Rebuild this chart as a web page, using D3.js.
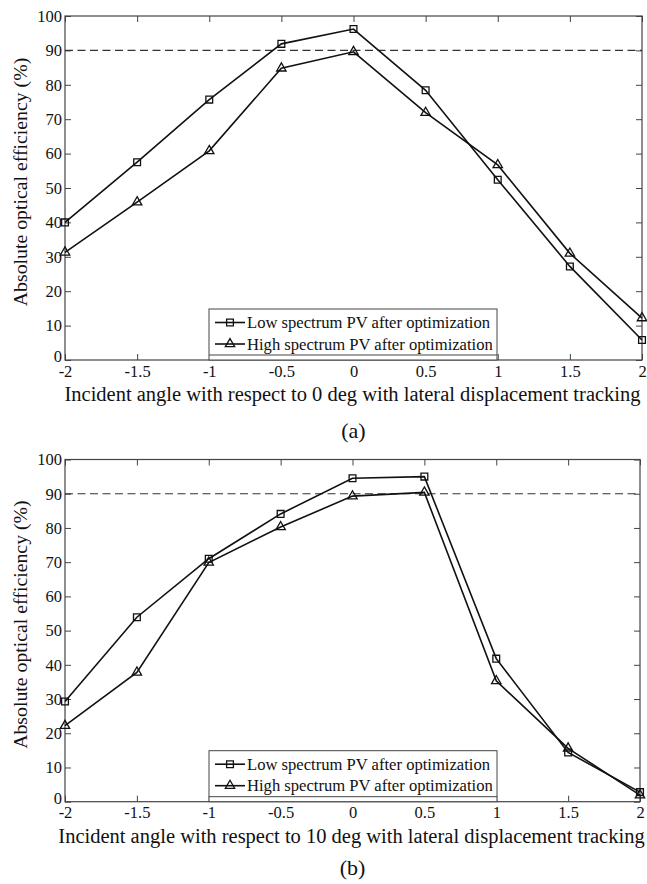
<!DOCTYPE html>
<html><head><meta charset="utf-8">
<script src="https://cdn.jsdelivr.net/npm/d3@7"></script>
<style>
html,body{margin:0;padding:0;background:#fff;}
svg text{font-family:"Liberation Serif","Times New Roman",serif;fill:#111;}
</style></head>
<body>
<svg id="chart" width="647" height="884"></svg>
<script>
// ---- data ----
const angles = [-2, -1.5, -1, -0.5, 0, 0.5, 1, 1.5, 2];
const lowA  = [40.0, 57.5, 75.7, 91.9, 96.2, 78.4, 52.4, 27.2, 5.8];
const highA = [31.3, 45.9, 60.8, 84.8, 89.6, 71.9, 56.7, 31.0, 12.2];
const lowB  = [29.3, 53.9, 71.0, 84.1, 94.5, 95.0, 41.8, 14.4, 2.8];
const highB = [22.2, 37.8, 69.9, 80.3, 89.3, 90.4, 35.3, 15.6, 1.9];
const xTicks = [-2, -1.5, -1, -0.5, 0, 0.5, 1, 1.5, 2];
const yTicks = [0, 10, 20, 30, 40, 50, 60, 70, 80, 90, 100];
const threshold = 90;
const seriesNames = ["Low spectrum PV after optimization", "High spectrum PV after optimization"];
const xLabels = ["Incident angle with respect to 0 deg with lateral displacement tracking",
                 "Incident angle with respect to 10 deg with lateral displacement tracking"];
const yLabel = "Absolute optical efficiency (%)";
const captions = ["(a)", "(b)"];

const svg = d3.select("#chart");
const panels = [
  {low: lowA, high: highA, left: 65, right: 642, top: 16, bottom: 360, xl: xLabels[0], cap: captions[0], capDy: 78},
  {low: lowB, high: highB, left: 65, right: 640, top: 459.5, bottom: 801.7, xl: xLabels[1], cap: captions[1], capDy: 73}
];

const sq = d3.symbol().type(d3.symbolSquare).size(46);
const tri = d3.symbol().type(d3.symbolTriangle).size(38);

panels.forEach(p => {
  const x = d3.scaleLinear().domain([-2, 2]).range([p.left, p.right]);
  const y = d3.scaleLinear().domain([0, 100]).range([p.bottom, p.top]);
  const g = svg.append("g");

  // frame
  g.append("rect").attr("x", p.left).attr("y", p.top)
    .attr("width", p.right - p.left).attr("height", p.bottom - p.top)
    .attr("fill", "none").attr("stroke", "#444").attr("stroke-width", 1.2);

  // axes
  const ax = g.append("g").attr("transform", `translate(0,${p.bottom})`)
    .call(d3.axisBottom(x).tickValues(xTicks).tickSize(-6).tickSizeOuter(0).tickPadding(5)
      .tickFormat(d => String(d)));
  const ay = g.append("g").attr("transform", `translate(${p.left},0)`)
    .call(d3.axisLeft(y).tickValues(yTicks).tickSize(-6).tickSizeOuter(0).tickPadding(3));
  const at = g.append("g").attr("transform", `translate(0,${p.top})`)
    .call(d3.axisTop(x).tickValues(xTicks).tickSize(-6).tickSizeOuter(0).tickFormat(""));
  const ar = g.append("g").attr("transform", `translate(${p.right},0)`)
    .call(d3.axisRight(y).tickValues(yTicks).tickSize(-6).tickSizeOuter(0).tickFormat(""));
  [ax, ay, at, ar].forEach(a => {
    a.select(".domain").remove();
    a.selectAll("line").attr("stroke", "#444").attr("stroke-width", 1);
    a.selectAll("text").attr("font-size", "16.5px").attr("fill", "#111")
      .style("font-family", '"Liberation Serif","Times New Roman",serif');
  });
  // lift the "0" y label slightly so it sits in the corner like the reference
  ay.selectAll(".tick").filter(d => d === 0).select("text").attr("dy", "0.1em");

  // dashed threshold
  g.append("line").attr("x1", p.left).attr("x2", p.right)
    .attr("y1", y(threshold)).attr("y2", y(threshold))
    .attr("stroke", "#333").attr("stroke-width", 1.1).attr("stroke-dasharray", "8,4.5");

  const line = d3.line().x((d, i) => x(angles[i])).y(d => y(d));
  [[p.low, sq], [p.high, tri]].forEach(([vals, sym]) => {
    g.append("path").datum(vals).attr("d", line)
      .attr("fill", "none").attr("stroke", "#111").attr("stroke-width", 1.6);
    g.selectAll(null).data(vals).enter().append("path")
      .attr("d", sym)
      .attr("transform", (d, i) => `translate(${x(angles[i])},${y(d)})`)
      .attr("fill", "none").attr("stroke", "#111").attr("stroke-width", 1.3);
  });

  // legend
  const lx = 209, lw = 288, ly = p.bottom - 51;
  g.append("rect").attr("x", lx).attr("y", ly).attr("width", lw).attr("height", 51)
    .attr("fill", "#fff").attr("stroke", "#444").attr("stroke-width", 1);
  g.append("line").attr("x1", lx).attr("x2", lx + lw).attr("y1", p.bottom - 5).attr("y2", p.bottom - 5)
    .attr("stroke", "#444").attr("stroke-width", 1);
  [[sq, 0], [tri, 1]].forEach(([sym, k]) => {
    const cy = ly + 13.5 + k * 21.5;
    g.append("line").attr("x1", lx + 6).attr("x2", lx + 36).attr("y1", cy).attr("y2", cy)
      .attr("stroke", "#111").attr("stroke-width", 1.6);
    g.append("path").attr("d", sym).attr("transform", `translate(${lx + 21},${cy})`)
      .attr("fill", "none").attr("stroke", "#111").attr("stroke-width", 1.3);
    g.append("text").attr("x", lx + 38).attr("y", cy + 5.5).attr("font-size", "16.6px")
      .text(seriesNames[k]);
  });

  // labels
  g.append("text").attr("x", (p.left + p.right) / 2 - 1).attr("y", p.bottom + 41)
    .attr("text-anchor", "middle").attr("font-size", "20.5px").text(p.xl);
  g.append("text").attr("transform", `translate(27,${(p.top + p.bottom) / 2 - 6}) rotate(-90)`)
    .attr("text-anchor", "middle").attr("font-size", "19.8px").text(yLabel);
  g.append("text").attr("x", (p.left + p.right) / 2).attr("y", p.bottom + p.capDy)
    .attr("text-anchor", "middle").attr("font-size", "22px").text(p.cap);
});
</script>
</body></html>
